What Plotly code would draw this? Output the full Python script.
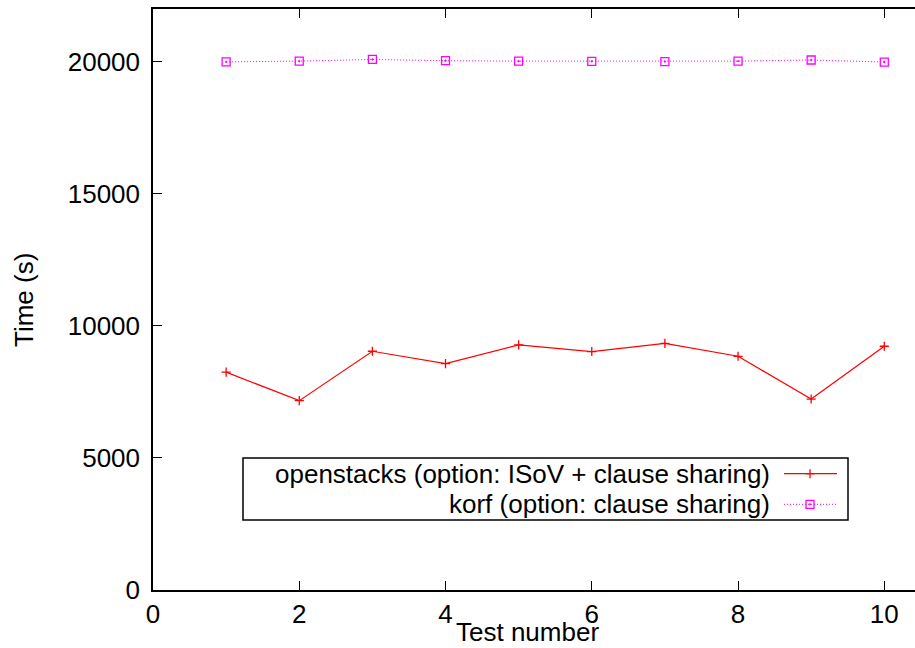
import plotly.graph_objects as go

# Test runs and measured solve times (seconds)
test_numbers = [1, 2, 3, 4, 5, 6, 7, 8, 9, 10]
openstacks_time = [8250, 7170, 9040, 8570, 9280, 9030, 9340, 8850, 7230, 9230]
korf_time = [20000, 20026, 20090, 20042, 20026, 20019, 20008, 20026, 20068, 19992]

series_names = [
    "openstacks (option: ISoV + clause sharing)",
    "korf (option: clause sharing)",
]
x_ticks = [0, 2, 4, 6, 8, 10]
y_ticks = [0, 5000, 10000, 15000, 20000]
y_tick_labels = ["0", "5000", "10000", "15000", "20000"]

RED = "#ff0000"
MAGENTA = "#ff00ff"
FONT = "Liberation Sans, Arial, Helvetica, sans-serif"
FS = 26

W, H = 915, 648
M_L, M_R, M_T, M_B = 153, 0, 9, 58
PW, PH = W - M_L - M_R, H - M_T - M_B


def px_x(px):
    return (px - M_L) / PW


def px_y(py):
    return (H - M_B - py) / PH


fig = go.Figure()

fig.add_trace(go.Scatter(
    x=test_numbers, y=openstacks_time, mode="lines+markers",
    name=series_names[0],
    line=dict(color=RED, width=1.2),
    marker=dict(symbol="cross-thin", size=6.5, line=dict(color=RED, width=1.3)),
    showlegend=False,
))
fig.add_trace(go.Scatter(
    x=test_numbers, y=korf_time, mode="lines+markers",
    name=series_names[1],
    line=dict(color=MAGENTA, width=1, dash="1px,2px"),
    marker=dict(symbol="square-open-dot", size=8, color=MAGENTA,
                line=dict(color=MAGENTA, width=1.3)),
    showlegend=False,
))

axis_common = dict(
    showgrid=False, zeroline=False,
    ticks="inside", ticklen=9, tickwidth=1, tickcolor="black",
    showline=True, linecolor="black", linewidth=1.5,
    tickfont=dict(family=FONT, size=FS, color="black"),
)

fig.update_xaxes(
    range=[0, 10.42], tickvals=x_ticks, mirror="ticks",
    **axis_common,
)
fig.update_yaxes(
    range=[0, 22000], tickvals=y_ticks, ticktext=y_tick_labels, mirror=False,
    ticklabelstandoff=6,
    **axis_common,
)

# Axis titles
annotations = [
    dict(xref="paper", yref="paper", x=px_x(527.5), y=px_y(632),
         xanchor="center", yanchor="middle", text="Test number", showarrow=False,
         font=dict(family=FONT, size=FS, color="black")),
    dict(xref="paper", yref="paper", x=px_x(24), y=px_y(300),
         xanchor="center", yanchor="middle", text="Time (s)", textangle=-90,
         showarrow=False, font=dict(family=FONT, size=FS, color="black")),
]

# Key box with right-aligned labels and line samples to the right
shapes = [dict(type="rect", xref="paper", yref="paper",
               x0=px_x(243), x1=px_x(848), y0=px_y(520), y1=px_y(458),
               line=dict(color="black", width=1.5), fillcolor="white", layer="above")]
rows = [(473.7, RED, "solid", "plus"), (504.3, MAGENTA, "1px,2px", "square")]
for (ry, col, dash, sym), label in zip(rows, series_names):
    annotations.append(dict(
        xref="paper", yref="paper", x=px_x(772), y=px_y(ry),
        xanchor="right", yanchor="middle", text=label, showarrow=False,
        font=dict(family=FONT, size=FS, color="black"),
    ))
    shapes.append(dict(type="line", xref="paper", yref="paper",
                       x0=px_x(784), x1=px_x(837), y0=px_y(ry), y1=px_y(ry),
                       line=dict(color=col, width=1.2 if dash == "solid" else 1, dash=dash),
                       layer="above"))
    cx = 810
    if sym == "plus":
        shapes.append(dict(type="line", xref="paper", yref="paper",
                           x0=px_x(cx - 4.5), x1=px_x(cx + 4.5), y0=px_y(ry), y1=px_y(ry),
                           line=dict(color=col, width=1.3), layer="above"))
        shapes.append(dict(type="line", xref="paper", yref="paper",
                           x0=px_x(cx), x1=px_x(cx), y0=px_y(ry - 4.5), y1=px_y(ry + 4.5),
                           line=dict(color=col, width=1.3), layer="above"))
    else:
        shapes.append(dict(type="rect", xref="paper", yref="paper",
                           x0=px_x(cx - 4), x1=px_x(cx + 4), y0=px_y(ry + 4), y1=px_y(ry - 4),
                           line=dict(color=col, width=1.3), layer="above"))
        shapes.append(dict(type="rect", xref="paper", yref="paper",
                           x0=px_x(cx - 0.6), x1=px_x(cx + 0.6), y0=px_y(ry + 0.6), y1=px_y(ry - 0.6),
                           line=dict(color=col, width=0.8), fillcolor=col, layer="above"))

fig.update_layout(
    width=W, height=H,
    margin=dict(l=M_L, r=M_R, t=M_T, b=M_B, autoexpand=False),
    paper_bgcolor="white", plot_bgcolor="white",
    font=dict(family=FONT, size=FS, color="black"),
    shapes=shapes, annotations=annotations,
)

fig.write_html("out.html")
